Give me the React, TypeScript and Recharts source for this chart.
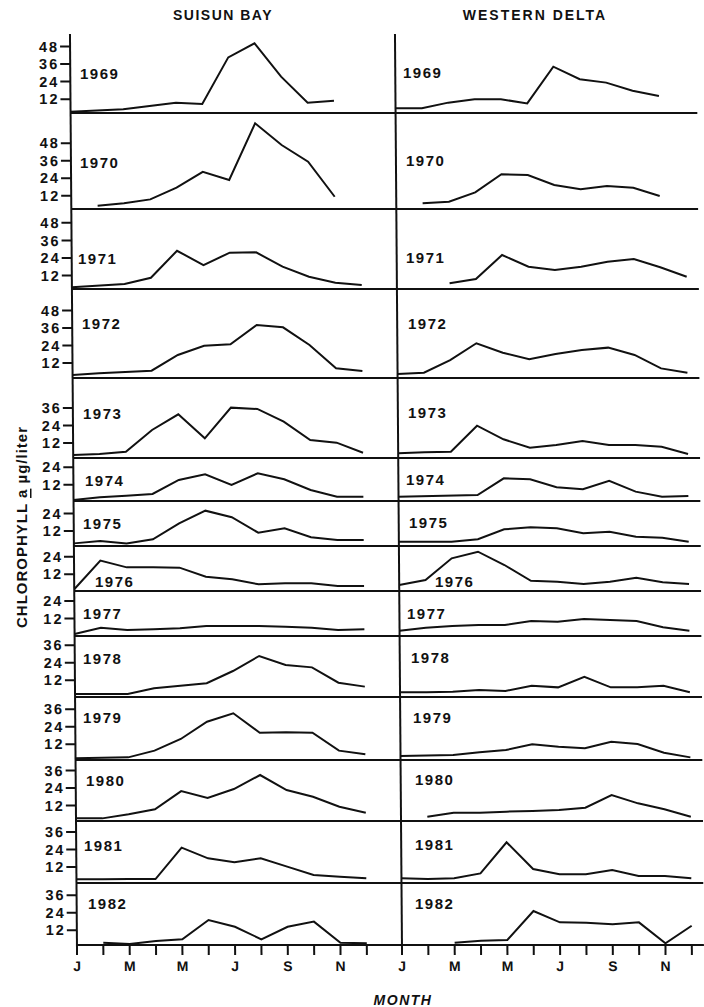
import React from "react";
import { LineChart, Line, XAxis, YAxis } from "recharts";

type V = number | null;

// months Jan..Dec, labels on every other tick
const MONTH_TICKS = [0, 1, 2, 3, 4, 5, 6, 7, 8, 9, 10, 11];
const MONTH_LABELS = ["J", "", "M", "", "M", "", "J", "", "S", "", "N", ""];

const YEARS = ["1969", "1970", "1971", "1972", "1973", "1974", "1975", "1976", "1977", "1978", "1979", "1980", "1981", "1982"];

// chlorophyll a (µg/liter), one row per year, Jan..Dec
const suisunBay: V[][] = [
  [3.4, null, 5.0, 7.3, 9.6, 8.7, 40.6, 50.2, 27.4, 9.6, 10.9, null],
  [null, 5.2, 6.8, 9.5, 17.5, 28.4, 22.8, 61.6, 46.7, 35.3, 11.3, null],
  [3.9, null, 6.1, 10.4, 28.9, 19.1, 27.6, 27.8, 18.0, 11.1, 7.0, 5.4],
  [3.8, 4.9, null, 6.7, 17.5, 23.8, 24.8, 38.0, 36.4, 24.3, 8.3, 6.5],
  [3.9, 4.5, 6.1, 21.0, 31.7, 15.3, 36.3, 35.4, 26.7, 14.1, 12.3, 5.4],
  [1.5, 3.3, 4.4, 5.6, 15.2, 19.1, 11.8, 19.8, 15.7, 8.3, 3.7, 3.7],
  [3.6, 5.2, 3.6, 6.4, 17.3, 26.0, 21.5, 10.9, 13.9, 7.8, 5.9, 5.9],
  [1.7, 21.3, 16.7, 16.7, 16.5, 10.3, 8.5, 5.1, 5.8, 5.8, 3.9, 3.9],
  [1.4, 5.7, 4.1, 4.6, 5.3, 6.8, 6.8, 6.8, 6.4, 5.7, 4.1, 4.6],
  [2.6, 2.6, 2.6, 6.5, 8.2, 9.9, 18.3, 28.6, 22.4, 20.8, 10.3, 7.6],
  [2.4, null, 3.0, 7.6, 15.6, 27.4, 33.2, 19.9, 20.2, 19.9, 7.6, 5.1],
  [3.2, 3.2, 6.0, 9.4, 21.9, 17.2, 23.3, 32.9, 22.6, 18.0, 11.2, 7.1],
  [3.6, 3.6, 3.8, 3.8, 25.3, 18.0, 15.3, 18.0, 12.3, 6.6, 5.4, 4.3],
  [null, 3.5, 2.6, 4.6, 5.8, 19.0, 14.4, 5.8, 14.4, 17.9, 3.5, 3.1],
];

const westernDelta: V[][] = [
  [5.7, 5.7, 9.6, 11.9, 11.9, 9.1, 34.2, 25.6, 23.3, 17.8, 14.1, null],
  [null, 6.8, 7.9, 14.3, 26.7, 26.2, 19.3, 16.4, 18.7, 17.5, 11.8, null],
  [null, null, 6.6, 9.5, 26.0, 18.0, 15.7, 18.0, 21.4, 23.2, 17.6, 11.1],
  [4.4, 5.3, 14.0, 25.5, 19.0, 14.5, 18.1, 20.9, 22.5, 17.5, 8.3, 5.3],
  [5.0, 5.7, 6.1, 23.9, 14.6, 8.9, 10.7, 13.4, 10.7, 10.7, 9.5, 4.5],
  [3.7, null, null, 4.9, 16.3, 15.7, 10.2, 8.8, 14.7, 7.2, 3.7, 4.2],
  [4.7, null, 4.7, 6.4, 13.2, 14.6, 13.9, 10.5, 11.6, 8.2, 7.5, 4.7],
  [4.6, 8.0, 22.9, 27.4, 18.3, 7.5, 6.9, 5.3, 6.9, 9.6, 6.5, 5.3],
  [3.6, 5.7, 6.8, 7.5, 7.5, 10.3, 9.8, 11.6, 11.0, 10.3, 6.0, 3.6],
  [3.7, 3.7, 4.1, 5.3, 4.6, 8.2, 7.1, 14.4, 7.1, 7.1, 8.2, 3.7],
  [3.9, null, 4.6, 6.5, 8.0, 12.0, 10.3, 9.2, 13.7, 12.2, 6.2, 3.0],
  [null, 4.3, 7.1, 7.1, 7.8, 8.2, 8.9, 10.5, 19.2, 13.5, 9.4, 4.3],
  [4.3, 3.8, 4.3, 7.7, 29.0, 10.7, 7.1, 7.1, 10.0, 5.9, 5.9, 4.3],
  [null, null, 3.5, 4.8, 5.3, 25.2, 17.4, 17.2, 16.1, 17.4, 3.1, 15.1],
];

const yTickSets: number[][] = [
  [12, 24, 36, 48], [12, 24, 36, 48], [12, 24, 36, 48], [12, 24, 36, 48],
  [12, 24, 36], [12, 24], [12, 24], [12, 24], [12, 24],
  [12, 24, 36], [12, 24, 36], [12, 24, 36], [12, 24, 36], [12, 24, 36],
];

// layout: panel strips (page px), value at baseline, scale
const ROW_TOPS = [34, 113, 209, 289, 378, 458, 501, 546, 591, 636, 697, 760, 821, 883];
const ROW_BASES = [113, 209, 289, 378, 458, 501, 546, 591, 636, 697, 760, 821, 883, 945];
const ROW_LO = [2.5, 2.9, 2.7, 1.7, 1.8, 0.8, 1.8, 0.5, 0, 0.5, 1.2, 1.4, 1.1, 1.9];
const PX_PER_UNIT = 1.46;
const PX_PER_MONTH = 26.35;

// year label positions [left x, center y]
const LABELS_LEFT = [[80, 73], [80, 162], [78, 258], [82, 323], [83, 413], [85, 480], [83, 523], [95, 581], [83, 613], [83, 658], [83, 717], [86, 780], [84, 845], [88, 903]];
const LABELS_RIGHT = [[403, 72], [406, 160], [406, 257], [408, 323], [408, 412], [406, 479], [409, 522], [435, 581], [407, 613], [411, 657], [413, 717], [415, 779], [415, 844], [415, 903]];

const FONT = "'Liberation Sans', Arial, Helvetica, sans-serif";
const INK = "#111";

function Panel({ values, row, side }: { values: V[]; row: number; side: "left" | "right" }) {
  const isLeft = side === "left";
  const last = row === YEARS.length - 1;
  const top = ROW_TOPS[row];
  const h = ROW_BASES[row] - top;
  const lo = ROW_LO[row];
  const hi = lo + h / PX_PER_UNIT;
  const xh = last ? 40 : 1;
  const yw = isLeft ? 77 : 10;
  const left = isLeft ? 0 : 392;
  const width = isLeft ? 402 : 312;
  const xMax = (width - yw) / PX_PER_MONTH;
  const data = values.map((v, m) => ({ m, v })).filter((d) => d.v !== null);

  return (
    <div style={{ position: "absolute", left, top }}>
      <LineChart width={width} height={h + xh} data={data} margin={{ top: 0, right: 0, bottom: 0, left: 0 }}>
        <XAxis
          type="number"
          dataKey="m"
          domain={[0, xMax]}
          allowDataOverflow
          ticks={MONTH_TICKS}
          interval={0}
          tickFormatter={(m: number) => MONTH_LABELS[m] ?? ""}
          height={xh}
          axisLine={{ stroke: INK, strokeWidth: 2 }}
          tickLine={last ? { stroke: INK, strokeWidth: 2 } : false}
          tick={last ? { fill: INK, fontSize: 14, fontWeight: 700, fontFamily: FONT } : false}
          tickSize={10}
          tickMargin={6}
        />
        <YAxis
          type="number"
          domain={[lo, hi]}
          allowDataOverflow
          ticks={yTickSets[row]}
          interval={0}
          width={yw}
          axisLine={{ stroke: INK, strokeWidth: 2 }}
          tickLine={isLeft ? { stroke: INK, strokeWidth: 2 } : false}
          tick={isLeft ? { fill: INK, fontSize: 14.5, fontWeight: 700, fontFamily: FONT, letterSpacing: 2 } : false}
          tickSize={10}
          tickMargin={1}
        />
        <Line type="linear" dataKey="v" stroke={INK} strokeWidth={2} dot={false} isAnimationActive={false} connectNulls />
      </LineChart>
    </div>
  );
}

export default function App() {
  return (
    <div style={{ position: "absolute", left: 0, top: 0, width: 704, height: 1007, background: "#fff", overflow: "hidden" }}>
      {/* the scanned axes lean slightly, so the panels are sheared a little */}
      <div style={{ position: "absolute", left: 0, top: 0, width: 704, height: 1007, transform: "skewX(0.44deg)", transformOrigin: "0px 950px" }}>
        {YEARS.map((y, i) => (
          <React.Fragment key={y}>
            <Panel values={suisunBay[i]} row={i} side="left" />
            <Panel values={westernDelta[i]} row={i} side="right" />
          </React.Fragment>
        ))}
      </div>
      <svg width={704} height={1007} style={{ position: "absolute", left: 0, top: 0, pointerEvents: "none" }} fontFamily={FONT} fill={INK}>
        <text x={223} y={15} textAnchor="middle" dominantBaseline="central" fontSize={14} fontWeight={700} letterSpacing={1.5}>SUISUN BAY</text>
        <text x={535} y={15} textAnchor="middle" dominantBaseline="central" fontSize={14} fontWeight={700} letterSpacing={2}>WESTERN DELTA</text>
        {YEARS.map((y, i) => (
          <React.Fragment key={y}>
            <text x={LABELS_LEFT[i][0]} y={LABELS_LEFT[i][1]} dominantBaseline="central" fontSize={15} fontWeight={700} letterSpacing={1.5}>{y}</text>
            <text x={LABELS_RIGHT[i][0]} y={LABELS_RIGHT[i][1]} dominantBaseline="central" fontSize={15} fontWeight={700} letterSpacing={1.5}>{y}</text>
          </React.Fragment>
        ))}
        <text transform="translate(21 527) rotate(-90)" textAnchor="middle" dominantBaseline="central" fontSize={15} fontWeight={700} letterSpacing={1}>
          CHLOROPHYLL <tspan textDecoration="underline">a</tspan> µg/liter
        </text>
        <text x={403} y={1000} textAnchor="middle" dominantBaseline="central" fontSize={14} fontWeight={700} fontStyle="italic" letterSpacing={1.5}>MONTH</text>
      </svg>
    </div>
  );
}
